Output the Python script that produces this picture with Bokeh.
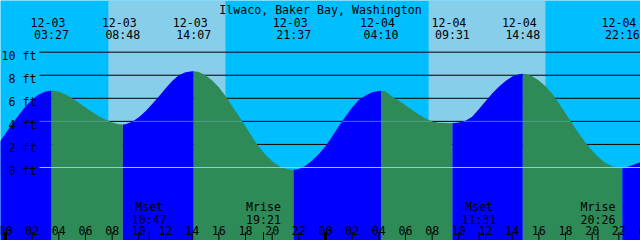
import numpy as np
from bokeh.plotting import figure
from bokeh.models import Range1d, BoxAnnotation
from bokeh.core.properties import value
from bokeh.embed import file_html
from bokeh.resources import INLINE

# ---------------- data ----------------
title = "Ilwaco, Baker Bay, Washington"

# tide height (ft) every half hour from 12-02 23:00 (hour -1)
hours = [i * 0.5 for i in range(-2, 97)]
heights = [1.25, 2.11, 2.95, 3.77, 4.55, 5.28, 5.9, 6.34, 6.6, 6.68,
           6.58, 6.34, 6.0, 5.61, 5.2, 4.81, 4.45, 4.14, 3.9, 3.75,
           3.76, 3.97, 4.35, 4.88, 5.5, 6.15, 6.85, 7.49, 8.0, 8.25,
           8.34, 8.28, 8.0, 7.55, 6.95, 6.2, 5.34, 4.46, 3.56, 2.65,
           1.8, 1.11, 0.55, 0.15, -0.1, -0.19, -0.12, 0.16, 0.6, 1.16,
           1.85, 2.69, 3.58, 4.43, 5.2, 5.85, 6.25, 6.53, 6.64, 6.58,
           6.15, 5.79, 5.4, 4.99, 4.6, 4.25, 3.98, 3.88, 3.86, 3.84,
           3.9, 4.05, 4.4, 5.05, 5.75, 6.42, 7.0, 7.5, 7.88, 8.09,
           8.11, 7.92, 7.55, 7.05, 6.4, 5.59, 4.7, 3.81, 2.95, 2.16,
           1.45, 0.86, 0.4, 0.10, -0.04, -0.03, 0.2, 0.42, 0.8]

# high / low tide events
event_dates = ["12-03", "12-03", "12-03", "12-03", "12-04", "12-04", "12-04", "12-04"]
event_times = ["03:27", "08:48", "14:07", "21:37", "04:10", "09:31", "14:48", "22:16"]
event_heights = [6.68, 3.73, 8.35, -0.2, 6.66, 3.84, 8.12, -0.06]

# moon events
moon_names = ["Mset", "Mrise", "Mset", "Mrise"]
moon_dates = ["12-03", "12-03", "12-04", "12-04"]
moon_times = ["10:47", "19:21", "11:31", "20:26"]

# daylight
sun_dates = ["12-03", "12-04"]
sunrise = ["07:43", "07:44"]
sunset = ["16:30", "16:30"]

depth_levels = [0, 2, 4, 6, 8, 10]
depth_labels = ["0 ft", "2 ft", "4 ft", "6 ft", "8 ft", "10 ft"]
datum_level = 0
msl_level = 4
tick_hours = list(range(0, 49, 2))
tick_labels = ["%02d" % (h % 24) for h in tick_hours]

# ---------------- layout ----------------
W, H = 640, 240
X_LO, X_HI = -0.375, 47.625
Y_LO, Y_HI = -6.33, 14.48
PXH = W / (X_HI - X_LO)
PXF = H / (Y_HI - Y_LO)


def fx(px):
    return X_LO + px / PXH


def fy(py):
    return Y_HI - py / PXF


def to_h(d, t):
    day = int(d.split("-")[1]) - 3
    hh, mm = t.split(":")
    return day * 24 + int(hh) + int(mm) / 60.0


FONT = value("DejaVu Sans Mono")
FS = "11.6px"
NIGHT = "#00BFFF"
DAY = "#87CEEB"
RISE = "#0000FF"
FALL = "#2E8B57"

p = figure(width=W, height=H, output_backend="svg", toolbar_location=None,
           x_range=Range1d(X_LO, X_HI), y_range=Range1d(Y_LO, Y_HI),
           x_axis_location=None, y_axis_location=None, min_border=0)
p.grid.visible = False
p.outline_line_color = None
p.background_fill_color = NIGHT
p.border_fill_color = NIGHT

# daylight bands
for d, r, s in zip(sun_dates, sunrise, sunset):
    p.add_layout(BoxAnnotation(left=to_h(d, r), right=to_h(d, s), fill_color=DAY,
                               fill_alpha=1.0, line_color=None, level="underlay"))

# depth lines (behind the water)
x_line0 = fx(39)
p.multi_line(xs=[[x_line0, X_HI] for _ in depth_levels],
             ys=[[lv, lv] for lv in depth_levels], line_color="black", line_width=1)

# water
ev_t = [to_h(d, t) for d, t in zip(event_dates, event_times)]
pts = sorted([(t, h, False) for t, h in zip(hours, heights)] +
             [(t, h, True) for t, h in zip(ev_t, event_heights)])
T = np.array([q[0] for q in pts])
Hh = np.array([q[1] for q in pts])
breaks = [0] + [i for i, q in enumerate(pts) if q[2]] + [len(pts) - 1]
for a, b in zip(breaks[:-1], breaks[1:]):
    seg_t = T[a:b + 1]
    seg_h = Hh[a:b + 1]
    col = RISE if seg_h[-1] > seg_h[0] else FALL
    p.varea(x=seg_t, y1=np.full(len(seg_t), Y_LO - 1), y2=seg_h, fill_color=col)

# datum line
p.line([x_line0, X_HI], [datum_level, datum_level], line_color="#87CEFA", line_width=1)

# mean sea level line, only where under water
td = np.linspace(x_line0, X_HI, 3000)
hd = np.interp(td, T, Hh)
p.line(td, np.where(hd >= msl_level, msl_level, np.nan), line_color="#62A89A", line_width=1)

# depth labels
p.text(x=[fx(36)] * len(depth_levels), y=[lv - 3.4 / PXF for lv in depth_levels],
       text=depth_labels, text_font=FONT, text_font_size=FS, text_color="black",
       text_align="right", text_baseline="alphabetic")

# title
p.text(x=[fx(320)], y=[fy(9.7)], text=[title], text_font=FONT, text_font_size=FS,
       text_color="black", text_align="center", text_baseline="alphabetic")

# event labels
p.text(x=[t - 3.5 / PXH for t in ev_t], y=[fy(21.7)] * len(ev_t), text=event_dates,
       text_font=FONT, text_font_size=FS, text_color="black",
       text_align="center", text_baseline="alphabetic")
p.text(x=ev_t, y=[fy(34)] * len(ev_t), text=event_times,
       text_font=FONT, text_font_size=FS, text_color="black",
       text_align="center", text_baseline="alphabetic")

# hour ticks and labels
tick_y1 = fy(231.5)
for h in tick_hours:
    p.segment(x0=[h], y0=[Y_LO - 1], x1=[h], y1=[tick_y1], line_color="black",
              line_width=3 if h % 24 == 0 else 1)
p.text(x=tick_hours, y=[fy(230)] * len(tick_hours), text=tick_labels,
       text_font=FONT, text_font_size=FS, text_color="black",
       text_align="center", text_baseline="alphabetic")

# moon events
moon_t = [to_h(d, t) for d, t in zip(moon_dates, moon_times)]
p.segment(x0=moon_t, y0=[Y_LO - 1] * len(moon_t), x1=moon_t, y1=[tick_y1] * len(moon_t),
          line_color="black", line_width=1)
p.text(x=moon_t, y=[fy(206.7)] * len(moon_t), text=moon_names,
       text_font=FONT, text_font_size=FS, text_color="black",
       text_align="center", text_baseline="alphabetic")
p.text(x=moon_t, y=[fy(219)] * len(moon_t), text=moon_times,
       text_font=FONT, text_font_size=FS, text_color="black",
       text_align="center", text_baseline="alphabetic")

open("out.html", "w").write(file_html(p, INLINE))
